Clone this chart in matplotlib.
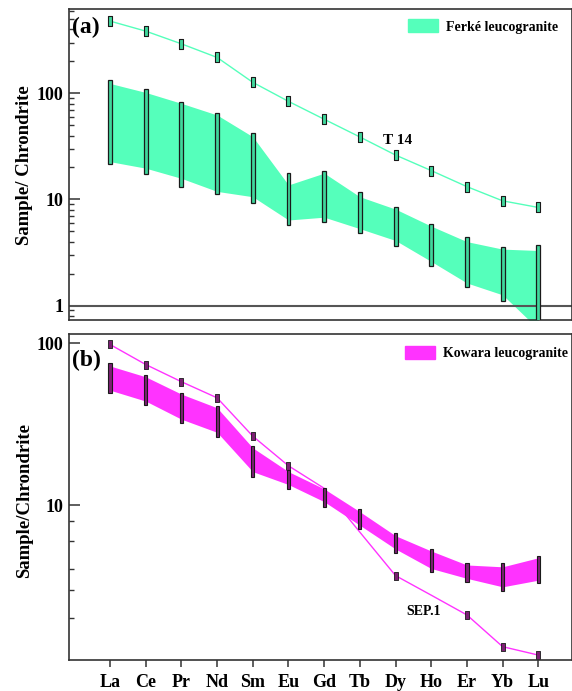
import numpy as np
import matplotlib
matplotlib.use("Agg")
import matplotlib.pyplot as plt
from matplotlib.patches import Patch
from matplotlib.ticker import FixedLocator, LogLocator, NullFormatter

# REE order
elements = ['La', 'Ce', 'Pr', 'Nd', 'Sm', 'Eu', 'Gd', 'Tb', 'Dy', 'Ho', 'Er', 'Yb', 'Lu']

# (a) Ferke leucogranite: envelope and per-element ranges
ferke_band_lo = [22.7, 19.7, 15.8, 11.9, 10.6, 6.4, 6.8, 5.3, 4.1, 2.6, 1.63, 1.26, 0.60]
ferke_band_hi = [124, 102, 80.5, 62.5, 39, 13.7, 17.7, 10.6, 8.1, 5.6, 4.0, 3.4, 3.3]
ferke_bar_lo = [21.4, 17.5, 13.2, 11.2, 9.3, 5.76, 6.14, 4.8, 3.67, 2.37, 1.48, 1.11, 0.70]
ferke_bar_hi = [133, 110, 83.4, 65.6, 42.6, 17.7, 18.5, 11.7, 8.45, 5.83, 4.47, 3.55, 3.73]
t14 = [480, 386, 293, 218, 127, 84, 57, 38.8, 26.2, 18.7, 13.2, 9.7, 8.4]

# (b) Kowara leucogranite
kowara_band_lo = [51.4, 44.0, 34.0, 28.2, 16.1, 13.4, 10.5, 7.5, 5.35, 4.05, 3.52, 3.12, 3.43]
kowara_band_hi = [72.6, 62.2, 48.6, 40.0, 22.6, 16.1, 12.6, 9.1, 6.46, 5.2, 4.26, 4.15, 4.72]
kowara_bar_lo = [49.1, 41.6, 32.0, 26.4, 15.0, 12.6, 9.76, 7.1, 5.03, 3.87, 3.33, 2.95, 3.28]
kowara_bar_hi = [75.2, 63.7, 49.3, 40.9, 23.3, 16.5, 12.8, 9.4, 6.68, 5.35, 4.37, 4.37, 4.86]
sep1 = [98.6, 74.1, 58, 46.1, 26.7, 17.5, 12.7, 6.8, 3.66, 2.77, 2.09, 1.33, 1.18]
sep1_marked = [0, 1, 2, 3, 4, 5, 8, 10, 11, 12]  # elements drawn with a marker

green = '#55ffbb'
magenta = '#ff33ff'
serif = 'Liberation Serif'
W, H = 572, 691

fig = plt.figure(figsize=(W / 100, H / 100), dpi=100)
plt.rcParams['font.family'] = serif
plt.rcParams['font.weight'] = 'bold'

x = np.arange(len(elements))
marker_box = [(-0.5, -1), (0.5, -1), (0.5, 1), (-0.5, 1), (-0.5, -1)]


def px_axes(left, top, right, bottom):
    return fig.add_axes([left / W, (H - bottom) / H, (right - left) / W, (bottom - top) / H])


def style(ax):
    for s in ax.spines.values():
        s.set_color('#333333')
        s.set_linewidth(1.2)
    ax.set_yscale('log')
    ax.set_xlim(-1.15, 12.93)
    ax.tick_params(axis='y', which='major', direction='in', length=8, width=1.1,
                   labelsize=13, pad=4, color='#333333')
    ax.tick_params(axis='y', which='minor', direction='in', length=3.5, width=1.0,
                   color='#333333')
    ax.yaxis.set_minor_formatter(NullFormatter())


# ---- panel (a)
ax1 = px_axes(69, 9.3, 571.5, 320)
style(ax1)
ax1.fill_between(x, ferke_band_lo, ferke_band_hi, color=green, lw=0, zorder=1)
ax1.bar(x, np.array(ferke_bar_hi) - np.array(ferke_bar_lo), bottom=ferke_bar_lo, width=0.11,
        color='#3fd79c', edgecolor='#1a1a1a', linewidth=0.9, zorder=3)
ax1.plot(x, t14, color=green, lw=1.0, marker=marker_box, ms=6.5, mfc='#3fd79c',
         mec='#1a1a1a', mew=0.8, zorder=4)
ax1.axhline(1, color='#555555', lw=1.5, zorder=2)
ax1.set_ylim(0.73, 620)
ax1.set_xticks([])
ax1.set_yticks([1, 10, 100])
ax1.set_yticklabels(['1', '10', '100'])
ax1.yaxis.set_minor_locator(LogLocator(base=10, subs=np.arange(2, 10)))
ax1.set_ylabel('Sample/ Chrondrite', fontsize=13.5, fontweight='bold')
ax1.yaxis.set_label_coords(-0.072, 0.5)
ax1.text(0.006, 0.943, '(a)', transform=ax1.transAxes, fontsize=17, fontweight='bold',
         ha='left', va='center')
ax1.text(8.05, 36, 'T 14', fontsize=11, fontweight='bold', ha='center', va='center')
ax1.legend(handles=[Patch(color=green, label='Ferké leucogranite')], loc='upper left',
           bbox_to_anchor=(0.675, 0.968), frameon=False, borderpad=0, borderaxespad=0,
           handlelength=2.16, handleheight=1.08, handletextpad=0.58,
           prop={'family': serif, 'weight': 'bold', 'size': 10})

# ---- panel (b)
ax2 = px_axes(69, 334.3, 571.5, 660)
style(ax2)
ax2.plot(x, sep1, color=magenta, lw=1.0, marker=marker_box, ms=5.5, mfc='#7d1f74',
         mec='#1a1a1a', mew=0.6, markevery=sep1_marked, zorder=1)
ax2.fill_between(x, kowara_band_lo, kowara_band_hi, color=magenta, lw=0, zorder=2)
ax2.bar(x, np.array(kowara_bar_hi) - np.array(kowara_bar_lo), bottom=kowara_bar_lo, width=0.09,
        color='#7d1f74', edgecolor='#1a1a1a', linewidth=0.8, zorder=3)
ax2.set_ylim(1.1, 114)
ax2.set_yticks([10, 100])
ax2.set_yticklabels(['10', '100'])
ax2.yaxis.set_minor_locator(FixedLocator([2, 3, 4, 6, 8]))
ax2.set_xticks(x)
ax2.set_xticklabels(elements)
ax2.tick_params(axis='x', direction='out', length=5, width=1.1, labelsize=13, pad=5,
                color='#333333')
ax2.set_ylabel('Sample/Chrondrite', fontsize=13.5, fontweight='bold')
ax2.yaxis.set_label_coords(-0.072, 0.49)
ax2.text(0.006, 0.92, '(b)', transform=ax2.transAxes, fontsize=17, fontweight='bold',
         ha='left', va='center')
ax2.text(8.79, 2.21, 'SEP.1', fontsize=10, fontweight='bold', ha='center', va='center')
ax2.legend(handles=[Patch(color=magenta, label='Kowara leucogranite')], loc='upper left',
           bbox_to_anchor=(0.669, 0.965), frameon=False, borderpad=0, borderaxespad=0,
           handlelength=2.16, handleheight=1.08, handletextpad=0.58,
           prop={'family': serif, 'weight': 'bold', 'size': 10})

fig.savefig('out.png', dpi=100)
